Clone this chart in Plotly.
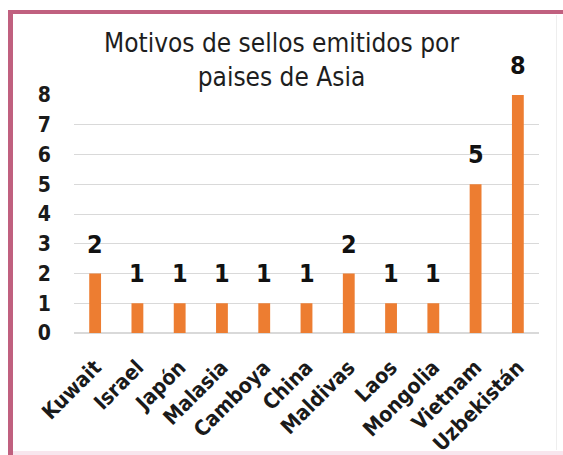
import plotly.graph_objects as go

paises = ["Kuwait", "Israel", "Japón", "Malasia", "Camboya", "China",
          "Maldivas", "Laos", "Mongolia", "Vietnam", "Uzbekistán"]
motivos = [2, 1, 1, 1, 1, 1, 2, 1, 1, 5, 8]
y_ticks = [0, 1, 2, 3, 4, 5, 6, 7, 8]

FONT = "DejaVu Sans Condensed"

fig = go.Figure()
fig.add_trace(go.Bar(
    x=paises, y=motivos,
    marker=dict(color="#ED7D31", line=dict(width=0)),
    hoverinfo="skip",
))

for p, v in zip(paises, motivos):
    fig.add_annotation(x=p, y=v, text=str(v), showarrow=False,
                       xref="x", yref="y", yanchor="bottom", yshift=13,
                       font=dict(family=FONT, size=25, color="#111111", weight="bold"))

W, H = 563, 455
ML, MR, MT, MB = 74, 24, 95, 122

fig.update_layout(
    width=W, height=H,
    margin=dict(l=ML, r=MR, t=MT, b=MB, autoexpand=False),
    paper_bgcolor="white", plot_bgcolor="white",
    showlegend=False,
    bargap=0.72,
    title=dict(text="Motivos de sellos emitidos por<br>paises de Asia",
               x=0.5, xanchor="center", xref="container",
               y=0.885, yanchor="top", yref="container",
               font=dict(family=FONT, size=26, color="#1e1e1e")),
    xaxis=dict(tickangle=-45, showgrid=False, showline=False, ticks="",
               automargin=False, ticklabelstandoff=17,
               tickfont=dict(family=FONT, size=21, color="#1a1a1a", weight="bold")),
    yaxis=dict(range=[0, 8], tickvals=y_ticks, showgrid=True, gridcolor="#d9d9d9",
               gridwidth=1, zeroline=True, zerolinecolor="#d9d9d9", showline=False,
               ticks="", ticklabelstandoff=22, automargin=False,
               tickfont=dict(family=FONT, size=21, color="#1a1a1a", weight="bold")),
)

pw, ph = W - ML - MR, H - MT - MB
def px(x):
    return (x - ML) / pw
def py(y):
    return (H - MB - y) / ph
# left pink edge
fig.add_shape(type="rect", xref="paper", yref="paper", x0=px(8), x1=px(13), y0=py(455), y1=py(10),
              fillcolor="#c0607f", line=dict(width=0), layer="above")
# top pink edge
fig.add_shape(type="rect", xref="paper", yref="paper", x0=px(8), x1=px(563), y0=py(14), y1=py(10),
              fillcolor="#c0607f", line=dict(width=0), layer="above")
# bottom faint pink strip
fig.add_shape(type="rect", xref="paper", yref="paper", x0=px(13), x1=px(563), y0=py(455), y1=py(451),
              fillcolor="#f8e6ee", line=dict(width=0), layer="below")
# faint inner right edge
fig.add_shape(type="rect", xref="paper", yref="paper", x0=px(556), x1=px(557), y0=py(450), y1=py(15),
              fillcolor="#eeeeee", line=dict(width=0), layer="below")

fig.write_html("out.html", config={"displayModeBar": False},
               post_script="document.body.style.margin='0';")
